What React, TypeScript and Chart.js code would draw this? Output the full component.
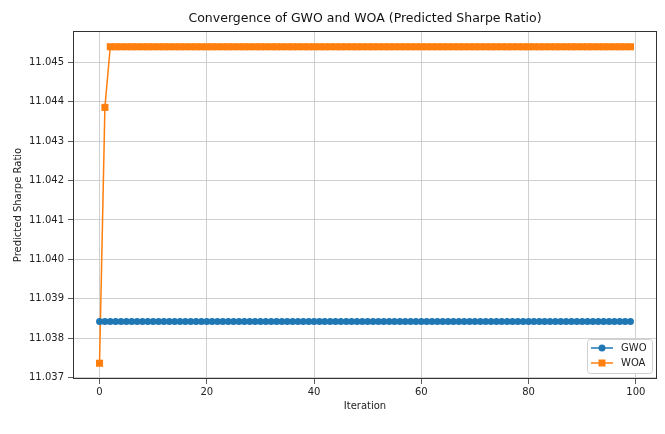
import { useEffect, useRef } from "react"
import { Chart, registerables } from "chart.js"

Chart.register(...registerables)

const iterations = [
  0, 1, 2, 3, 4, 5, 6, 7, 8, 9,
  10, 11, 12, 13, 14, 15, 16, 17, 18, 19,
  20, 21, 22, 23, 24, 25, 26, 27, 28, 29,
  30, 31, 32, 33, 34, 35, 36, 37, 38, 39,
  40, 41, 42, 43, 44, 45, 46, 47, 48, 49,
  50, 51, 52, 53, 54, 55, 56, 57, 58, 59,
  60, 61, 62, 63, 64, 65, 66, 67, 68, 69,
  70, 71, 72, 73, 74, 75, 76, 77, 78, 79,
  80, 81, 82, 83, 84, 85, 86, 87, 88, 89,
  90, 91, 92, 93, 94, 95, 96, 97, 98, 99,
]

const gwoValues = [
  11.03842, 11.03842, 11.03842, 11.03842, 11.03842, 11.03842, 11.03842, 11.03842, 11.03842, 11.03842,
  11.03842, 11.03842, 11.03842, 11.03842, 11.03842, 11.03842, 11.03842, 11.03842, 11.03842, 11.03842,
  11.03842, 11.03842, 11.03842, 11.03842, 11.03842, 11.03842, 11.03842, 11.03842, 11.03842, 11.03842,
  11.03842, 11.03842, 11.03842, 11.03842, 11.03842, 11.03842, 11.03842, 11.03842, 11.03842, 11.03842,
  11.03842, 11.03842, 11.03842, 11.03842, 11.03842, 11.03842, 11.03842, 11.03842, 11.03842, 11.03842,
  11.03842, 11.03842, 11.03842, 11.03842, 11.03842, 11.03842, 11.03842, 11.03842, 11.03842, 11.03842,
  11.03842, 11.03842, 11.03842, 11.03842, 11.03842, 11.03842, 11.03842, 11.03842, 11.03842, 11.03842,
  11.03842, 11.03842, 11.03842, 11.03842, 11.03842, 11.03842, 11.03842, 11.03842, 11.03842, 11.03842,
  11.03842, 11.03842, 11.03842, 11.03842, 11.03842, 11.03842, 11.03842, 11.03842, 11.03842, 11.03842,
  11.03842, 11.03842, 11.03842, 11.03842, 11.03842, 11.03842, 11.03842, 11.03842, 11.03842, 11.03842,
]

const woaValues = [
  11.03736, 11.04386, 11.0454, 11.0454, 11.0454, 11.0454, 11.0454, 11.0454, 11.0454, 11.0454,
  11.0454, 11.0454, 11.0454, 11.0454, 11.0454, 11.0454, 11.0454, 11.0454, 11.0454, 11.0454,
  11.0454, 11.0454, 11.0454, 11.0454, 11.0454, 11.0454, 11.0454, 11.0454, 11.0454, 11.0454,
  11.0454, 11.0454, 11.0454, 11.0454, 11.0454, 11.0454, 11.0454, 11.0454, 11.0454, 11.0454,
  11.0454, 11.0454, 11.0454, 11.0454, 11.0454, 11.0454, 11.0454, 11.0454, 11.0454, 11.0454,
  11.0454, 11.0454, 11.0454, 11.0454, 11.0454, 11.0454, 11.0454, 11.0454, 11.0454, 11.0454,
  11.0454, 11.0454, 11.0454, 11.0454, 11.0454, 11.0454, 11.0454, 11.0454, 11.0454, 11.0454,
  11.0454, 11.0454, 11.0454, 11.0454, 11.0454, 11.0454, 11.0454, 11.0454, 11.0454, 11.0454,
  11.0454, 11.0454, 11.0454, 11.0454, 11.0454, 11.0454, 11.0454, 11.0454, 11.0454, 11.0454,
  11.0454, 11.0454, 11.0454, 11.0454, 11.0454, 11.0454, 11.0454, 11.0454, 11.0454, 11.0454,
]

const xTicks = [0, 20, 40, 60, 80, 100]
const yTicks = [11.037, 11.038, 11.039, 11.04, 11.041, 11.042, 11.043, 11.044, 11.045]

const seriesNames = ["GWO", "WOA"]
const seriesColors = ["#1f77b4", "#ff7f0e"]

const chartTitle = "Convergence of GWO and WOA (Predicted Sharpe Ratio)"
const xLabel = "Iteration"
const yLabel = "Predicted Sharpe Ratio"

const FONT = "'DejaVu Sans', Verdana, sans-serif"
const TEXT = "#222"

// 제목, 축 이름, 테두리, 범례를 직접 그림 (matplotlib 스타일)
const decorPlugin = {
  id: "decor",
  afterDraw(chart: Chart) {
    const { ctx, chartArea } = chart
    const { left, right, top, bottom } = chartArea
    ctx.save()

    // 테두리
    ctx.strokeStyle = "#333"
    ctx.lineWidth = 1
    ctx.strokeRect(left + 0.5, top + 0.5, right - left - 1, bottom - top - 1)

    // 제목
    ctx.fillStyle = "#111"
    ctx.font = `12.5px ${FONT}`
    ctx.textAlign = "center"
    ctx.textBaseline = "middle"
    ctx.fillText(chartTitle, (left + right) / 2, 19)

    // 축 이름
    ctx.font = `10px ${FONT}`
    ctx.fillStyle = TEXT
    ctx.fillText(xLabel, (left + right) / 2, 406)
    ctx.save()
    ctx.translate(18, (top + bottom) / 2)
    ctx.rotate(-Math.PI / 2)
    ctx.fillText(yLabel, 0, 0)
    ctx.restore()

    // 범례
    const boxW = 65
    const boxH = 34
    const bx = right - 5 - boxW
    const by = bottom - 6 - boxH
    ctx.fillStyle = "rgba(255,255,255,0.85)"
    ctx.strokeStyle = "#d0d0d0"
    ctx.beginPath()
    ctx.roundRect(bx + 0.5, by + 0.5, boxW, boxH, 3)
    ctx.fill()
    ctx.stroke()

    seriesNames.forEach((name, i) => {
      const cy = by + 9 + i * 15
      const lx = bx + 4
      ctx.strokeStyle = seriesColors[i]
      ctx.fillStyle = seriesColors[i]
      ctx.lineWidth = 1.5
      ctx.beginPath()
      ctx.moveTo(lx, cy)
      ctx.lineTo(lx + 22, cy)
      ctx.stroke()
      ctx.beginPath()
      if (i === 0) {
        ctx.arc(lx + 11, cy, 3.5, 0, Math.PI * 2)
      } else {
        ctx.rect(lx + 11 - 3.5, cy - 3.5, 7, 7)
      }
      ctx.fill()
      ctx.fillStyle = TEXT
      ctx.font = `10px ${FONT}`
      ctx.textAlign = "left"
      ctx.fillText(name, lx + 30, cy)
    })

    ctx.restore()
  },
}

export default function App() {
  const chartRef = useRef<HTMLCanvasElement>(null)
  const chartInstance = useRef<Chart | null>(null)

  useEffect(() => {
    if (!chartRef.current) return
    if (chartInstance.current) chartInstance.current.destroy()

    const ctx = chartRef.current.getContext("2d")
    if (!ctx) return

    chartInstance.current = new Chart(ctx, {
      type: "line",
      data: {
        datasets: [
          {
            label: seriesNames[0],
            data: iterations.map((x, i) => ({ x, y: gwoValues[i] })),
            borderColor: seriesColors[0],
            backgroundColor: seriesColors[0],
            borderWidth: 1.5,
            pointStyle: "circle",
            pointRadius: 3.5,
            pointBorderWidth: 0,
          },
          {
            label: seriesNames[1],
            data: iterations.map((x, i) => ({ x, y: woaValues[i] })),
            borderColor: seriesColors[1],
            backgroundColor: seriesColors[1],
            borderWidth: 1.5,
            pointStyle: "rect",
            pointRadius: 5,
            pointBorderWidth: 0,
          },
        ],
      },
      options: {
        responsive: true,
        maintainAspectRatio: false,
        animation: false,
        events: [],
        layout: { padding: { top: 31, right: 8, left: 0, bottom: 0 } },
        plugins: {
          legend: { display: false },
          title: { display: false },
          tooltip: { enabled: false },
        },
        scales: {
          x: {
            type: "linear",
            min: -4.95,
            max: 103.95,
            afterBuildTicks: (scale: any) => {
              scale.ticks = xTicks.map((value) => ({ value }))
            },
            afterFit: (scale: any) => {
              scale.height = 55
            },
            grid: {
              color: "#c4c4c4",
              lineWidth: 0.8,
              tickColor: "#333",
              tickLength: 5,
            },
            border: { display: false },
            ticks: {
              color: TEXT,
              font: { family: FONT, size: 10 },
              padding: 2,
              maxRotation: 0,
              callback: (v: any) => String(v),
            },
          },
          y: {
            type: "linear",
            min: 11.03696,
            max: 11.0458,
            afterBuildTicks: (scale: any) => {
              scale.ticks = yTicks.map((value) => ({ value }))
            },
            afterFit: (scale: any) => {
              scale.width = 73
            },
            grid: {
              color: "#c4c4c4",
              lineWidth: 0.8,
              tickColor: "#333",
              tickLength: 5,
            },
            border: { display: false },
            ticks: {
              color: TEXT,
              font: { family: FONT, size: 10 },
              padding: 4,
              callback: (v: any) => Number(v).toFixed(3),
            },
          },
        },
      },
      plugins: [decorPlugin],
    })

    return () => {
      if (chartInstance.current) {
        chartInstance.current.destroy()
        chartInstance.current = null
      }
    }
  }, [])

  return (
    <div style={{ position: "fixed", left: 0, top: 0, width: "665px", height: "434px", background: "#fff" }}>
      <canvas ref={chartRef} />
    </div>
  )
}
